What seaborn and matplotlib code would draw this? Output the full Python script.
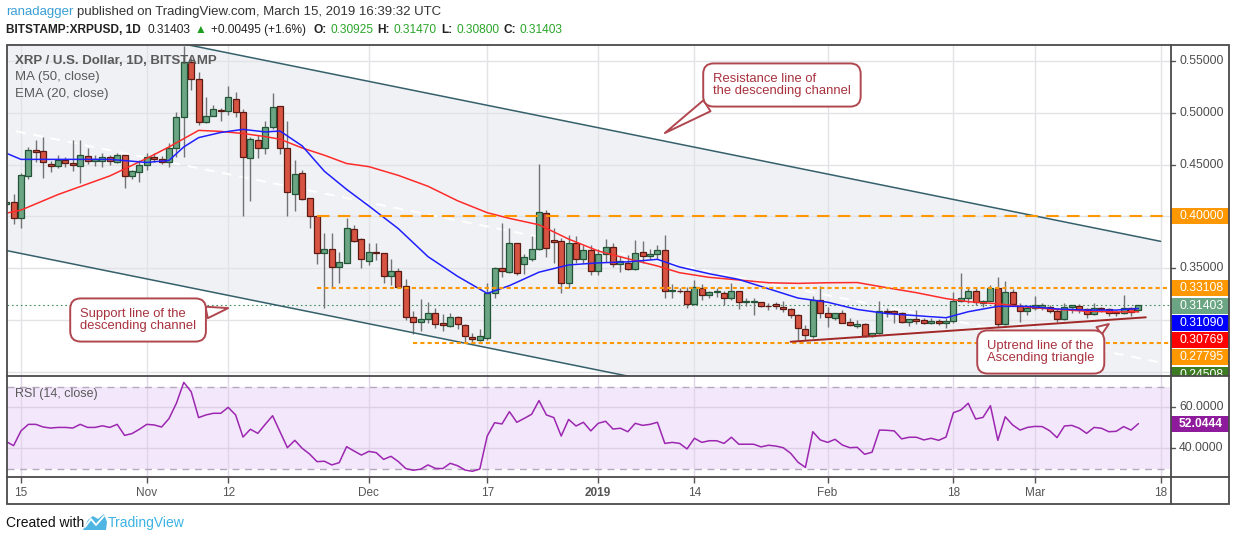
import numpy as np
import pandas as pd
import seaborn as sns
import matplotlib.pyplot as plt
import matplotlib.dates as mdates
from matplotlib.patches import Rectangle, Polygon
from matplotlib.lines import Line2D

# ---------------- data ----------------
first_day = "2018-10-13"
last_day = "2019-03-15"

opens = [
    # Oct
    0.412, 0.4135, 0.398, 0.439, 0.464, 0.463, 0.451, 0.449, 0.4543, 0.4513, 0.449, 0.458, 0.453,
    0.4538, 0.4575, 0.4527, 0.459, 0.439, 0.4425,
    # Nov
    0.450, 0.457, 0.4555, 0.452, 0.4657, 0.4956, 0.549, 0.533, 0.4907, 0.4966,
    0.5025, 0.5016, 0.513, 0.5004, 0.4566, 0.4737, 0.4657, 0.4859, 0.5065, 0.4657,
    0.422, 0.4415, 0.4173, 0.4005, 0.3642, 0.368, 0.3507, 0.3545, 0.3874, 0.3777,
    # Dec
    0.357, 0.3657, 0.3642, 0.3426, 0.3471, 0.3326, 0.3024, 0.298, 0.3005, 0.3063,
    0.2966, 0.2944, 0.3024, 0.2949, 0.2836, 0.2808, 0.2827, 0.3256, 0.3497, 0.3458,
    0.3739, 0.3536, 0.3584, 0.3681, 0.4028, 0.377, 0.3761, 0.3352, 0.3745, 0.3584, 0.3674,
    # Jan
    0.3474, 0.3632, 0.3706, 0.3536, 0.355, 0.3487, 0.3652, 0.3616, 0.3635, 0.3674,
    0.3278, 0.3282, 0.3278, 0.3149, 0.3304, 0.324, 0.327, 0.3256, 0.3214, 0.3278,
    0.3175, 0.3175, 0.3169, 0.3134, 0.3152, 0.3127, 0.3101, 0.3046, 0.2907, 0.2846, 0.3191,
    # Feb
    0.3069, 0.302, 0.3069, 0.2979, 0.2938, 0.296, 0.2846, 0.2869, 0.3084, 0.3084,
    0.3069, 0.2982, 0.3007, 0.2998, 0.2966, 0.2988, 0.2966, 0.2988, 0.318, 0.3207,
    0.3278, 0.3166, 0.3185, 0.3304, 0.2959, 0.3265, 0.3136, 0.3084,
    # Mar
    0.3117, 0.3124, 0.312, 0.3084, 0.3004, 0.3127, 0.3136, 0.3101, 0.3056, 0.3111,
    0.3101, 0.3075, 0.3069, 0.3111, 0.30925,
]
highs = [
    0.416, 0.4215, 0.442, 0.467, 0.474, 0.477, 0.453, 0.459, 0.457, 0.4737, 0.474, 0.4656, 0.459,
    0.4615, 0.4595, 0.4615, 0.4595, 0.4447, 0.4543,
    0.461, 0.461, 0.458, 0.4705, 0.501, 0.565, 0.553, 0.5397, 0.5155, 0.508,
    0.505, 0.5258, 0.5203, 0.5033, 0.4769, 0.4785, 0.492, 0.5194, 0.5065, 0.492,
    0.4543, 0.4447, 0.4173, 0.4005, 0.3841, 0.384, 0.3657, 0.398, 0.3915, 0.3787,
    0.3738, 0.3745, 0.3642, 0.3584, 0.3497, 0.339, 0.3087, 0.3197, 0.3175, 0.3111,
    0.3056, 0.3069, 0.3037, 0.2959, 0.2868, 0.2907, 0.3352, 0.3513, 0.3932, 0.3883,
    0.3745, 0.3635, 0.3809, 0.4505, 0.406, 0.3884, 0.3787, 0.3819, 0.381, 0.372, 0.372,
    0.3688, 0.3777, 0.3745, 0.3613, 0.3625, 0.377, 0.3764, 0.368, 0.372, 0.3819,
    0.3343, 0.3304, 0.332, 0.3384, 0.3343, 0.3278, 0.3304, 0.3275, 0.3352, 0.3278,
    0.3207, 0.3214, 0.3175, 0.3159, 0.3175, 0.3182, 0.311, 0.3056, 0.2949, 0.3229, 0.3326,
    0.3127, 0.3069, 0.3094, 0.3014, 0.2998, 0.2966, 0.2875, 0.3181, 0.311, 0.3094,
    0.3078, 0.3011, 0.3094, 0.302, 0.302, 0.3004, 0.3014, 0.3271, 0.3449, 0.3314,
    0.3304, 0.3191, 0.3336, 0.3416, 0.3378, 0.3294, 0.3162, 0.3127,
    0.3229, 0.3162, 0.3143, 0.311, 0.3165, 0.3143, 0.3149, 0.311, 0.3165, 0.3127,
    0.311, 0.3088, 0.3239, 0.3127, 0.3147,
]
lows = [
    0.409, 0.393, 0.3886, 0.436, 0.4527, 0.437, 0.443, 0.447, 0.448, 0.444, 0.4324, 0.4505, 0.449,
    0.448, 0.450, 0.4515, 0.427, 0.4365, 0.4334,
    0.4445, 0.4527, 0.451, 0.4475, 0.4575, 0.4575, 0.522, 0.488, 0.49, 0.4966,
    0.4923, 0.4978, 0.4962, 0.4005, 0.415, 0.4566, 0.4601, 0.4843, 0.4601, 0.4005,
    0.4054, 0.4155, 0.3884, 0.3539, 0.311, 0.3304, 0.3352, 0.3545, 0.3755, 0.3497,
    0.3525, 0.3575, 0.3352, 0.3336, 0.3314, 0.2998, 0.2862, 0.2894, 0.2966, 0.2917,
    0.2894, 0.2933, 0.2907, 0.2778, 0.2772, 0.2798, 0.2804, 0.3207, 0.3416, 0.3449,
    0.343, 0.3442, 0.3565, 0.3675, 0.3609, 0.3545, 0.3262, 0.3304, 0.3545, 0.3545, 0.3436,
    0.3429, 0.356, 0.3507, 0.3465, 0.3478, 0.3478, 0.3552, 0.3584, 0.3584, 0.3207,
    0.3207, 0.3256, 0.311, 0.3143, 0.3194, 0.3214, 0.322, 0.3143, 0.3194, 0.31,
    0.313, 0.3046, 0.312, 0.3096, 0.3108, 0.3072, 0.3014, 0.2795, 0.2804, 0.2826, 0.3014,
    0.2933, 0.2998, 0.2966, 0.2943, 0.292, 0.2836, 0.2836, 0.2862, 0.303, 0.2966,
    0.2966, 0.2943, 0.2956, 0.2956, 0.2956, 0.295, 0.292, 0.2966, 0.3175, 0.3165,
    0.314, 0.3127, 0.3178, 0.2933, 0.2949, 0.3143, 0.2982, 0.3046,
    0.3091, 0.3091, 0.3062, 0.2982, 0.2998, 0.3069, 0.3069, 0.302, 0.3046, 0.3078,
    0.304, 0.304, 0.3056, 0.304, 0.308,
]
closes = [
    0.414, 0.398, 0.440, 0.464, 0.462, 0.4527, 0.449, 0.454, 0.4518, 0.4495, 0.459, 0.453, 0.455,
    0.4575, 0.4535, 0.4592, 0.439, 0.4437, 0.450,
    0.457, 0.455, 0.4525, 0.4657, 0.4956, 0.549, 0.533, 0.4907, 0.4969, 0.5036,
    0.5017, 0.515, 0.501, 0.4575, 0.4746, 0.4657, 0.486, 0.5053, 0.4657, 0.4237,
    0.4405, 0.4167, 0.4005, 0.3648, 0.3681, 0.3507, 0.3555, 0.3884, 0.3764, 0.3584,
    0.3657, 0.3642, 0.3426, 0.3471, 0.3314, 0.3024, 0.2982, 0.3005, 0.3062, 0.2959,
    0.2953, 0.3024, 0.2956, 0.2846, 0.2811, 0.284, 0.3256, 0.3497, 0.3471, 0.3739,
    0.3449, 0.3604, 0.3681, 0.4038, 0.3696, 0.3748, 0.3358, 0.3739, 0.3584, 0.3674, 0.3474,
    0.3635, 0.3706, 0.3536, 0.3568, 0.3487, 0.3648, 0.3616, 0.3635, 0.3674, 0.3278,
    0.3285, 0.3275, 0.3149, 0.3314, 0.324, 0.3265, 0.3275, 0.3207, 0.3278, 0.3169,
    0.318, 0.3182, 0.313, 0.313, 0.3133, 0.3101, 0.3046, 0.2917, 0.285, 0.3191, 0.3062,
    0.303, 0.3069, 0.2972, 0.2946, 0.296, 0.2846, 0.2872, 0.3084, 0.3075, 0.3062,
    0.2982, 0.3007, 0.2988, 0.2966, 0.2988, 0.2966, 0.2988, 0.3181, 0.3207, 0.3278,
    0.3169, 0.3185, 0.331, 0.2959, 0.3265, 0.3149, 0.3084, 0.3117,
    0.314, 0.314, 0.3084, 0.3004, 0.3127, 0.3143, 0.3101, 0.3056, 0.3111, 0.3101,
    0.3069, 0.307, 0.3111, 0.3078, 0.31403,
]
rsi = [
    43.3, 41.3, 48.5, 51.7, 51.7, 50.4, 49.9, 50.2, 50.2, 49.9, 51.7, 50.2, 50.2, 51.0, 50.2, 51.7,
    46.3, 47.2, 49.3,
    51.7, 51.4, 50.4, 54.5, 62.0, 72.2, 67.6, 55.0, 56.3, 57.1, 57.1, 60.0, 56.3, 45.5, 49.3,
    47.3, 51.7, 55.9, 48.1, 40.3, 43.9, 40.0, 37.2, 33.5, 33.7, 31.9, 33.0, 40.8, 38.7, 36.7,
    38.5, 37.9, 34.6, 36.1, 33.5, 30.1, 29.3, 29.8, 31.9, 30.2, 30.1, 32.7, 31.5, 29.4, 28.8,
    29.9, 46.0, 52.5, 51.9, 57.9, 52.7, 54.6, 56.6, 63.3, 56.3, 55.0, 46.0, 54.1, 50.9, 52.7, 48.5,
    52.2, 53.2, 49.4, 49.8, 48.1, 52.2, 51.2, 51.7, 52.7, 42.4, 42.9, 42.4, 39.7, 44.9, 42.9,
    43.7, 43.7, 42.4, 45.4, 42.0, 42.0, 42.0, 40.7, 41.5, 41.1, 40.3, 37.6, 33.2, 30.7, 48.1, 44.1,
    42.9, 44.4, 41.6, 40.3, 40.5, 37.1, 38.1, 48.9, 48.8, 48.5, 44.6, 45.4, 45.4, 44.1, 44.9,
    43.9, 45.5, 57.4, 58.7, 62.0, 54.3, 55.1, 60.8, 43.9, 55.4, 51.4, 48.9, 50.2,
    50.7, 50.6, 48.6, 45.2, 50.9, 51.2, 49.8, 47.3, 50.2, 49.8, 48.1, 48.3, 50.6, 48.9, 52.0444,
]

ma_dates = [
    "2018-10-13", "2018-10-15", "2018-10-20", "2018-10-27", "2018-11-01", "2018-11-04",
    "2018-11-06", "2018-11-08", "2018-11-11", "2018-11-14", "2018-11-17", "2018-11-19",
    "2018-11-22", "2018-11-25", "2018-11-28", "2018-12-01", "2018-12-05", "2018-12-09",
    "2018-12-13", "2018-12-17", "2018-12-20", "2018-12-24", "2018-12-28", "2019-01-01",
    "2019-01-05", "2019-01-09", "2019-01-12", "2019-01-16", "2019-01-20", "2019-01-24",
    "2019-01-28", "2019-02-01", "2019-02-05", "2019-02-09", "2019-02-13", "2019-02-17",
    "2019-02-20", "2019-02-24", "2019-02-28", "2019-03-04", "2019-03-08", "2019-03-12",
    "2019-03-15",
]
ema20 = [
    0.461, 0.455, 0.455, 0.455, 0.452, 0.454, 0.467, 0.476, 0.481, 0.484, 0.4815, 0.4824,
    0.468, 0.4435, 0.426, 0.410, 0.388, 0.361, 0.342, 0.3255, 0.333, 0.346, 0.353, 0.355,
    0.356, 0.3584, 0.351, 0.3445, 0.339, 0.330, 0.321, 0.317, 0.310, 0.306, 0.304, 0.302,
    0.3078, 0.313, 0.313, 0.3105, 0.3094, 0.3094, 0.3109,
]
ma50 = [
    0.403, 0.406, 0.421, 0.439, 0.456, 0.467, 0.475, 0.483, 0.482, 0.480, 0.477, 0.4745,
    0.466, 0.459, 0.451, 0.448, 0.4395, 0.429, 0.415, 0.4035, 0.398, 0.3918, 0.378, 0.3665,
    0.359, 0.352, 0.3455, 0.341, 0.3385, 0.3358, 0.3352, 0.3358, 0.336, 0.331, 0.3262, 0.3205,
    0.3175, 0.3155, 0.3122, 0.310, 0.3083, 0.3076, 0.3077,
]

# drawings
channel_dates = ["2018-10-12", "2019-03-18"]
channel_support = [0.3684, 0.1416]
channel_width = 0.2342
triangle_dates = ["2019-01-27", "2019-03-16"]
triangle_line = [0.2788, 0.3024]
level_values = [0.40, 0.33108, 0.27795]
level_starts = ["2018-11-24", "2018-11-24", "2018-12-07"]
last_price = 0.31403

price_ticks = [0.55, 0.50, 0.45, 0.35]
scale_labels = ["0.40000", "0.33108", "0.31403", "0.31090", "0.30769", "0.27795", "0.24508"]
scale_colors = ["#ff9800", "#ff9800", "#6ba583", "#0000ff", "#ff0000", "#ff9800", "#3d7b23"]
scale_label_px = [215.7, 288, 306, 323, 340, 357, 375]

tick_dates = ["2018-10-15", "2018-11-01", "2018-11-12", "2018-12-01", "2018-12-17", "2019-01-01",
              "2019-01-14", "2019-02-01", "2019-02-18", "2019-03-01", "2019-03-18"]
tick_labels = ["15", "Nov", "12", "Dec", "17", "2019", "14", "Feb", "18", "Mar", "18"]

# ---------------- figure ----------------
sns.set_theme(style="white")
plt.rcParams['font.family'] = ['Liberation Sans', 'DejaVu Sans']

W, H = 1234, 541
fig = plt.figure(figsize=(W / 100, H / 100), dpi=100)
fig.patch.set_facecolor("white")


def fx(px):
    return px / W


def fy(py):
    return 1 - py / H


P_TOP, P_BOT = 0.5655, 0.2457
R_TOP, R_BOT = 75.3, 26.0

ax = fig.add_axes([fx(7), fy(376), (1171 - 7) / W, (376 - 45) / H])
rax = fig.add_axes([fx(7), fy(477), (1171 - 7) / W, (477 - 376) / H])
pax = fig.add_axes([fx(1171), fy(376), (1229 - 1171) / W, (376 - 45) / H])
rsax = fig.add_axes([fx(1171), fy(477), (1229 - 1171) / W, (477 - 376) / H])

days = pd.date_range(first_day, last_day)
x = mdates.date2num(days.to_pydatetime())
d0 = mdates.date2num(pd.Timestamp("2018-10-15").to_pydatetime())
xlim = (d0 - 1.89, d0 + 155.4)


def dnum(ds):
    return mdates.date2num(pd.to_datetime(ds).to_pydatetime())


tick_x = dnum(tick_dates)

for a in (ax, rax):
    a.set_xlim(*xlim)
    a.set_facecolor("white")
    for s in a.spines.values():
        s.set_visible(False)
ax.set_ylim(P_BOT, P_TOP)
rax.set_ylim(R_BOT, R_TOP)

# channel background
xc = dnum(channel_dates)
sup = np.array(channel_support)
ax.fill_between(xc, sup, sup + channel_width, color="#f0f1f4", lw=0, zorder=0.2)

# grid
for t in tick_x:
    ax.axvline(t, color="#e2e3e7", lw=1, zorder=0.6)
    rax.axvline(t, color="#e0d6e8", lw=1, zorder=0.6)
for p in [0.25, 0.30, 0.35, 0.40, 0.45, 0.50, 0.55]:
    ax.axhline(p, color="#e2e3e7", lw=1, zorder=0.6)

# channel lines and midline
ax.plot(xc, sup + channel_width / 2, color="white", lw=1.4, ls=(0, (5, 4)), zorder=0.8)
ax.plot(xc, sup, color="#35606b", lw=1.1, zorder=6)
ax.plot(xc, sup + channel_width, color="#35606b", lw=1.1, zorder=6)

# last price line
ax.axhline(last_price, color="#3f8f5f", lw=0.8, ls=(0, (1.5, 2.5)), zorder=2.5)

# candles
o, h, l, c = map(np.array, (opens, highs, lows, closes))
up = c >= o
ax.vlines(x, l, h, color="#737375", lw=1, zorder=3)
ax.bar(x, np.maximum(np.abs(c - o), 0.0008), bottom=np.minimum(o, c), width=0.8,
       color=np.where(up, "#6ba583", "#d75442"), edgecolor=np.where(up, "#225437", "#5b1a13"),
       linewidth=0.9, zorder=4)

# moving averages
ma_df = pd.DataFrame({"x": dnum(ma_dates), "ema": ema20, "ma": ma50})
sns.lineplot(data=ma_df, x="x", y="ma", color="#ff2b2b", lw=1.1, estimator=None, ax=ax, zorder=5)
sns.lineplot(data=ma_df, x="x", y="ema", color="#2020ff", lw=1.1, estimator=None, ax=ax, zorder=5)

# horizontal levels
styles = [(0, (6, 4)), (0, (2, 1.5)), (0, (2, 1.5))]
for v, s, ls in zip(level_values, level_starts, styles):
    ax.plot([dnum(s), xlim[1]], [v, v], color="#ff9800", lw=1.5, ls=ls, zorder=6)

# ascending triangle uptrend line
ax.plot(dnum(triangle_dates), triangle_line, color="#a02828", lw=1.4, zorder=6)

ax.set_xticks([])
ax.set_yticks([])
ax.set_xlabel("")
ax.set_ylabel("")

# callouts
bubble = dict(boxstyle="round,pad=0.75,rounding_size=0.8", fc="white", ec="#b0474f", lw=1.4)
red_txt = "#a8323e"


def callout(text, tip, txt_px, rel, tw):
    ax.annotate(text, xy=(dnum(tip[0]), tip[1]), xycoords="data",
                xytext=(fx(txt_px[0]), fy(txt_px[1])), textcoords="figure fraction",
                ha="left", va="center", fontsize=9.4, color=red_txt, linespacing=0.95,
                bbox=bubble, zorder=8, annotation_clip=False,
                arrowprops=dict(arrowstyle=f"wedge,tail_width={tw}", fc="white", ec="#b0474f",
                                lw=1.4, relpos=rel, shrinkA=0, shrinkB=0))


callout("Support line of the\ndescending channel", ("2018-11-12", 0.3113), (80, 320), (0.97, 0.7), 0.9)
callout("Resistance line of\nthe descending channel", ("2019-01-10", 0.4804), (713, 85), (0.07, 0.05), 1.0)
callout("Uptrend line of the\nAscending triangle", ("2019-03-11", 0.2959), (987, 352), (0.9, 0.95), 0.7)

# rsi panel
rax.axhspan(30, 70, color="#f3e7fb", zorder=0.1, lw=0)
for v in (60, 40):
    rax.axhline(v, color="#dccfe6", lw=1, zorder=0.6)
for v in (70, 30):
    rax.axhline(v, color="#b5a9bf", lw=1, ls=(0, (5, 4)), zorder=0.7)
sns.lineplot(x=x, y=rsi, color="#9c27b0", lw=1.1, ax=rax, zorder=5)
rax.set_yticks([])
rax.set_ylabel("")
rax.set_xticks(tick_x)
rax.set_xticklabels(tick_labels)
rax.tick_params(axis="x", length=4, width=1, color="#555555", labelsize=8.5,
                labelcolor="#555555", pad=3, bottom=True)
rax.get_xticklabels()[5].set_fontweight("bold")

# price scale
for a, lo, hi in ((pax, P_BOT, P_TOP), (rsax, R_BOT, R_TOP)):
    a.set_xlim(0, 1)
    a.set_ylim(lo, hi)
    a.axis("off")
for v in price_ticks:
    pax.plot([0, 0.07], [v, v], color="#555555", lw=1)
    pax.text(0.14, v, f"{v:.5f}", va="center", ha="left", fontsize=8.7, color="#4d4d4d")
box_h = 16 / 1035
for lab, col, py in zip(scale_labels, scale_colors, scale_label_px):
    pv = P_TOP - (py - 45) / 1035
    pax.add_patch(Rectangle((0, pv - box_h / 2), 1, box_h, color=col, lw=0))
    pax.text(0.14, pv, lab, va="center", ha="left", fontsize=8.7, color="white", clip_on=True)

for v in (60, 40):
    rsax.plot([0, 0.07], [v, v], color="#555555", lw=1)
    rsax.text(0.14, v, f"{v:.4f}", va="center", ha="left", fontsize=8.7, color="#4d4d4d")
rsi_box_h = 16 / (101 / (R_TOP - R_BOT))
rsax.add_patch(Rectangle((0, rsi[-1] - rsi_box_h / 2), 1, rsi_box_h, color="#8e1b9c", lw=0))
rsax.text(0.14, rsi[-1], f"{rsi[-1]:.4f}", va="center", ha="left", fontsize=8.7,
          color="white", fontweight="bold")

# frame
frame_col = "#4a4a4a"
fig.add_artist(Rectangle((fx(7), fy(504)), (1229 - 7) / W, (504 - 45) / H, fill=False,
                         ec=frame_col, lw=1.3, transform=fig.transFigure))
for py in (376, 477):
    fig.add_artist(Line2D([fx(7), fx(1229)], [fy(py), fy(py)], color=frame_col, lw=1.3))
fig.add_artist(Line2D([fx(1171), fx(1171)], [fy(45), fy(504)], color=frame_col, lw=1.3))

# legends inside panels
fig.text(fx(15), fy(61), "XRP / U.S. Dollar, 1D, BITSTAMP", fontsize=9.5, fontweight="bold",
         color="#5a5a5a", va="center")
fig.text(fx(15), fy(77), "MA (50, close)", fontsize=9.5, color="#5a5a5a", va="center")
fig.text(fx(15), fy(94), "EMA (20, close)", fontsize=9.5, color="#5a5a5a", va="center")
fig.text(fx(15), fy(394), "RSI (14, close)", fontsize=9, color="#5a5a5a", va="center")

# header
dark = "#222222"
green = "#2aa52a"
fig.text(fx(6), fy(12), "ranadagger", fontsize=9.5, color="#3a9fd5", va="center")
fig.text(fx(77), fy(12), "published on TradingView.com, March 15, 2019 16:39:32 UTC",
         fontsize=9.5, color="#333333", va="center")
header = [
    (6, "BITSTAMP:XRPUSD, 1D", dark, "bold"),
    (147, "0.31403", dark, "normal"),
    (195, "\u25b2", "#1e9e1e", "normal"),
    (207, "+0.00495 (+1.6%)", dark, "normal"),
    (313, "O:", dark, "bold"),
    (326, "0.30925", green, "normal"),
    (377, "H:", dark, "bold"),
    (390, "0.31470", green, "normal"),
    (441, "L:", dark, "bold"),
    (452, "0.30800", green, "normal"),
    (503, "C:", dark, "bold"),
    (514, "0.31403", green, "normal"),
]
renderer = fig.canvas.get_renderer()
cursor = 0
for px, txt, col, wt in header:
    gap = 4 if (wt == "bold" or txt[0] in "0+\u25b2") else 1
    start = max(px, cursor + gap)
    t = fig.text(fx(start), fy(30), txt, fontsize=8.6, color=col, fontweight=wt, va="center")
    cursor = t.get_window_extent(renderer).x1

# footer
fig.text(fx(6), fy(523), "Created with", fontsize=10, color="#111111", va="center")
fig.add_artist(Polygon([(fx(83), fy(530)), (fx(88), fy(520)), (fx(93), fy(516)), (fx(98), fy(519)),
                        (fx(104), fy(514)), (fx(107), fy(522)), (fx(106), fy(530))],
                       closed=True, fc="#4fb6e3", ec="none", transform=fig.transFigure))
fig.add_artist(Line2D([fx(85), fx(91), fx(96), fx(104)], [fy(527), fy(519), fy(525), fy(516)],
                      color="white", lw=1.3))
fig.text(fx(108), fy(523), "TradingView", fontsize=10, color="#3bb3e4", va="center")

fig.savefig("out.png", dpi=100)
